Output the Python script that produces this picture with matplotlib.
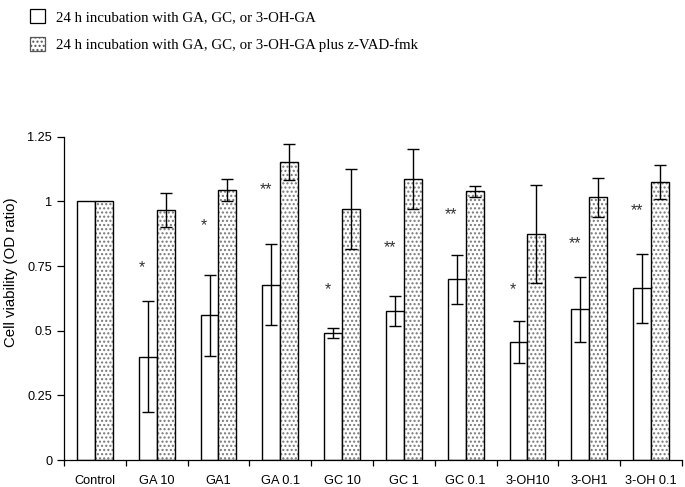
import numpy as np
import matplotlib
matplotlib.use("Agg")
import matplotlib.pyplot as plt
from matplotlib.patches import Patch

# data
groups = ["Control", "GA 10", "GA1", "GA 0.1", "GC 10", "GC 1", "GC 0.1",
          "3-OH10", "3-OH1", "3-OH 0.1"]
plain = [1.0, 0.40, 0.56, 0.678, 0.49, 0.576, 0.698, 0.456, 0.582, 0.664]
plain_err = [0, 0.215, 0.156, 0.156, 0.019, 0.058, 0.093, 0.081, 0.124, 0.133]
zvad = [1.0, 0.966, 1.043, 1.152, 0.972, 1.088, 1.039, 0.873, 1.015, 1.075]
zvad_err = [0, 0.067, 0.043, 0.07, 0.155, 0.116, 0.022, 0.19, 0.077, 0.064]
stars = ["", "*", "*", "**", "*", "**", "**", "*", "**", "**"]
star_y = [0, 0.745, 0.905, 1.045, 0.66, 0.82, 0.95, 0.66, 0.835, 0.965]

leg1 = "24 h incubation with GA, GC, or 3-OH-GA"
leg2 = "24 h incubation with GA, GC, or 3-OH-GA plus z-VAD-fmk"

plt.rcParams["font.family"] = ["Liberation Sans", "DejaVu Sans"]

fig = plt.figure(figsize=(6.85, 4.87), dpi=100)
ax = fig.add_axes([0.0934, 0.0554, 0.9022, 0.6639])

x = np.arange(len(groups))
w = 0.29

# white bars
ax.bar(x - w / 2, plain, w, color="white", edgecolor="black", linewidth=1.0)
# dotted bars: hatch layer in grey then black outline on top
ax.bar(x + w / 2, zvad, w, color="white", edgecolor="#777777", hatch="....",
       linewidth=0)
ax.bar(x + w / 2, zvad, w, color="none", edgecolor="black", linewidth=1.0)

eb = [i for i in range(len(groups)) if plain_err[i] > 0]
ax.errorbar(x[eb] - w / 2, np.array(plain)[eb], yerr=np.array(plain_err)[eb],
            fmt="none", ecolor="black", elinewidth=1.0, capsize=4, capthick=1.0)
ax.errorbar(x[eb] + w / 2, np.array(zvad)[eb], yerr=np.array(zvad_err)[eb],
            fmt="none", ecolor="black", elinewidth=1.0, capsize=4, capthick=1.0)

for i in range(len(groups)):
    if stars[i]:
        ax.text(x[i] - w * 0.8, star_y[i], stars[i], ha="center", va="center",
                fontsize=11.5, color="#333333")

ax.set_xlim(-0.5, len(groups) - 0.5)
ax.set_ylim(0, 1.25)
ax.set_yticks([0, 0.25, 0.5, 0.75, 1, 1.25])
ax.set_yticklabels(["0", "0.25", "0.5", "0.75", "1", "1.25"])
ax.set_xticks(x)
ax.set_xticklabels(groups)
ax.set_xticks(np.arange(len(groups) + 1) - 0.5, minor=True)
ax.tick_params(axis="x", which="major", length=0, pad=11, labelsize=9.2)
ax.tick_params(axis="x", which="minor", length=4, width=0.9, direction="out")
ax.tick_params(axis="y", length=5, width=0.9, labelsize=9.2)
ax.spines["top"].set_visible(False)
ax.spines["right"].set_visible(False)
ax.spines["left"].set_linewidth(0.9)
ax.spines["bottom"].set_linewidth(0.9)
ax.set_ylabel("Cell viability (OD ratio)", fontsize=10.8)
ax.yaxis.set_label_coords(-0.074, 0.582)

handles = [Patch(facecolor="white", edgecolor="black", linewidth=0.9),
           Patch(facecolor="white", edgecolor="#555555", hatch="....", linewidth=0.9)]
fig.legend(handles, [leg1, leg2], loc="upper left", bbox_to_anchor=(0.044, 0.981),
           frameon=False, borderpad=0, borderaxespad=0,
           handlelength=1.0, handleheight=1.0, handletextpad=0.75,
           labelspacing=0.9, prop={"family": "Liberation Serif", "size": 10.7})

fig.savefig("out.png", dpi=100)
